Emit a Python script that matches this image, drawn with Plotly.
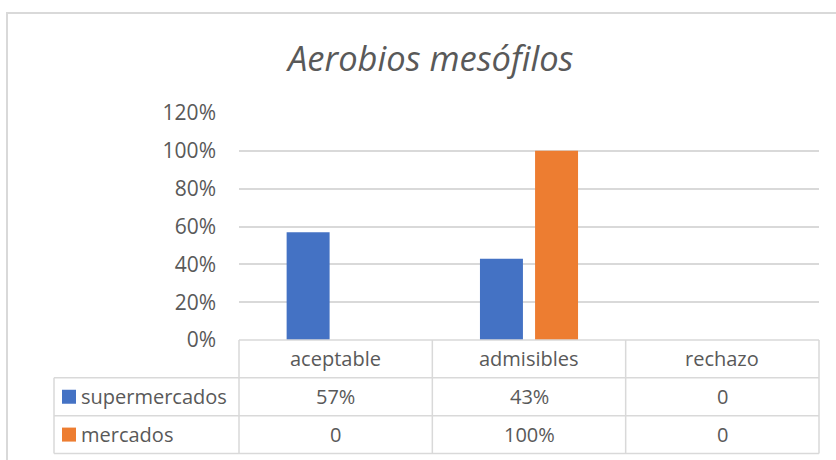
import plotly.graph_objects as go

# Data
categories = ["aceptable", "admisibles", "rechazo"]
series_names = ["supermercados", "mercados"]
supermercados = [0.57, 0.43, 0]
mercados = [0, 1.00, 0]
series_values = [supermercados, mercados]
series_colors = ["#4472C4", "#ED7D31"]
y_tick_vals = [0, 0.2, 0.4, 0.6, 0.8, 1.0, 1.2]
y_tick_text = ["0%", "20%", "40%", "60%", "80%", "100%", "120%"]
title_text = "Aerobios mesófilos"

FONT = "Open Sans"
TEXT = "#595959"
LINE = "#D9D9D9"

W, H = 836, 460
M_L, M_R, M_T, M_B = 239, 17, 113, 120
PLOT_W = W - M_L - M_R
PLOT_H = H - M_T - M_B
Y_MAX = 1.2


def fmt(v):
    return "0" if v == 0 else f"{v:.0%}"


def px_x(px):
    return (px - M_L) / PLOT_W


def px_y(py):
    return (H - M_B - py) / PLOT_H


fig = go.Figure()
xs = list(range(len(categories)))
for name, vals, col in zip(series_names, series_values, series_colors):
    fig.add_trace(go.Bar(x=xs, y=vals, name=name, marker=dict(color=col, line=dict(width=0)),
                         hoverinfo="skip", showlegend=False))

# Data table under the plot: each row is one gridline step tall
n_cat = len(categories)
row_h = 0.2 / Y_MAX
left_x = px_x(54)
shapes = []
line = dict(color=LINE, width=1.5)
# horizontal rules
shapes.append(dict(type="line", xref="paper", yref="paper", x0=0, x1=1, y0=0, y1=0, line=line))
for k in range(1, len(series_names) + 2):
    shapes.append(dict(type="line", xref="paper", yref="paper", x0=left_x, x1=1,
                       y0=-k * row_h, y1=-k * row_h, line=line))
# vertical rules
for i in range(n_cat + 1):
    shapes.append(dict(type="line", xref="paper", yref="paper", x0=i / n_cat, x1=i / n_cat,
                       y0=0, y1=-(len(series_names) + 1) * row_h, line=line))
shapes.append(dict(type="line", xref="paper", yref="paper", x0=left_x, x1=left_x,
                   y0=-row_h, y1=-(len(series_names) + 1) * row_h, line=line))

TABLE_FONT = dict(family=FONT, size=20, color=TEXT)
annotations = []
for i, cat in enumerate(categories):
    annotations.append(dict(xref="paper", yref="paper", x=(i + 0.5) / n_cat, y=-0.5 * row_h,
                            text=cat, showarrow=False, xanchor="center", yanchor="middle",
                            font=TABLE_FONT))
for r, (name, vals, col) in enumerate(zip(series_names, series_values, series_colors)):
    yc = -(r + 1.5) * row_h
    # legend key square
    shapes.append(dict(type="rect", xref="paper", yref="paper",
                       x0=px_x(62), x1=px_x(76), y0=yc - 7 / PLOT_H, y1=yc + 7 / PLOT_H,
                       fillcolor=col, line=dict(width=0)))
    annotations.append(dict(xref="paper", yref="paper", x=px_x(79), y=yc, text=name,
                            showarrow=False, xanchor="left", yanchor="middle",
                            font=TABLE_FONT))
    for i, v in enumerate(vals):
        annotations.append(dict(xref="paper", yref="paper", x=(i + 0.5) / n_cat, y=yc,
                                text=fmt(v), showarrow=False, xanchor="center", yanchor="middle",
                                font=TABLE_FONT))

# chart frame
shapes.append(dict(type="rect", xref="paper", yref="paper", x0=px_x(7), x1=px_x(900),
                   y0=px_y(520), y1=px_y(13), line=dict(color=LINE, width=2), layer="below"))

annotations.append(dict(xref="paper", yref="paper", x=px_x(429.5), y=px_y(58), text=title_text,
                        showarrow=False, xanchor="center", yanchor="middle",
                        font=dict(family=FONT, size=34.5, color=TEXT, style="italic")))

fig.update_layout(
    width=W, height=H,
    margin=dict(l=M_L, r=M_R, t=M_T, b=M_B),
    paper_bgcolor="white", plot_bgcolor="white",
    barmode="group", bargap=0.43, bargroupgap=0.22,
    shapes=shapes, annotations=annotations,
    xaxis=dict(range=[-0.5, n_cat - 0.5], showticklabels=False, showgrid=False,
               zeroline=False, showline=False, fixedrange=True),
    yaxis=dict(range=[0, Y_MAX], tickvals=y_tick_vals, ticktext=y_tick_text,
               showgrid=True, gridcolor=LINE, gridwidth=1.5, zeroline=False, showline=False,
               ticklabelstandoff=22, tickfont=dict(family=FONT, size=21, color=TEXT),
               fixedrange=True),
)

fig.write_html("out.html")
